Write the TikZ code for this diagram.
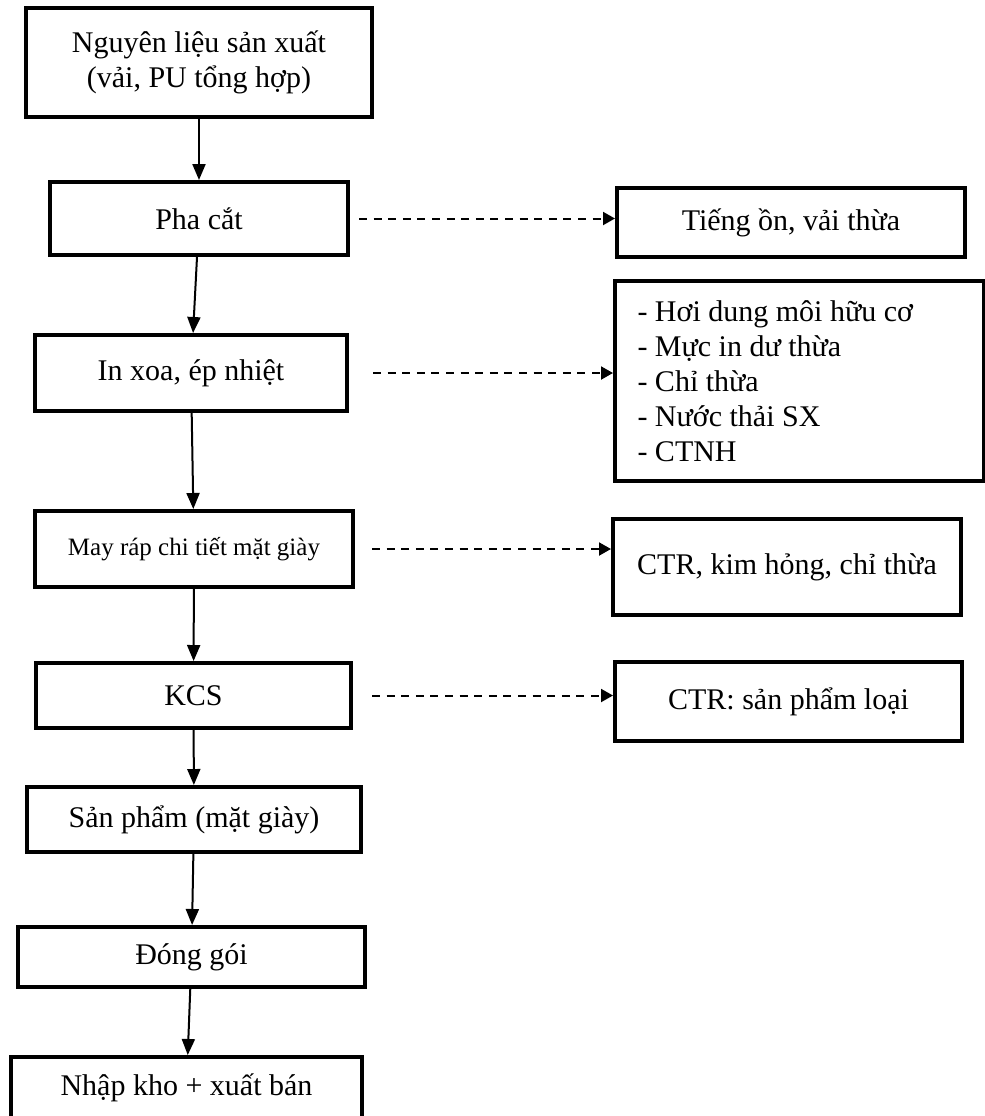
\documentclass[tikz,border=0pt]{standalone}
\usepackage{fontspec}
\setmainfont{Liberation Serif}
\usetikzlibrary{arrows.meta}

\begin{document}
\begin{tikzpicture}[x=0.5pt, y=-0.5pt, every node/.style={font=\fontsize{15}{17.5}\selectfont},
   box/.style={draw, line width=2pt, align=center, inner sep=0pt},
   arr/.style={-{Triangle[length=8pt, width=6.5pt]}, line width=1pt},
   dasharr/.style={-{Triangle[length=6pt, width=6.5pt]}, line width=1pt, dash pattern=on 4pt off 3.3pt}]
  \useasboundingbox (0,0) rectangle (985,1116);
  % main chain
  \node[box, minimum width=173pt, minimum height=54.5pt] (a) at (199,62.5) {Nguyên liệu sản xuất\\(vải, PU tổng hợp)};
  \node[box, minimum width=149pt, minimum height=36.5pt] (b) at (199,218.5) {Pha cắt};
  \node[box, minimum width=156pt, minimum height=38pt] (c) at (191,373) {In xoa, ép nhiệt};
  \node[box, minimum width=159pt, minimum height=38pt, font=\fontsize{12.5}{15}\selectfont] (d) at (194,549) {May ráp chi tiết mặt giày};
  \node[box, minimum width=157.5pt, minimum height=32.5pt] (e) at (193.5,695.5) {KCS};
  \node[box, minimum width=167pt, minimum height=32.5pt] (f) at (194,819.5) {Sản phẩm (mặt giày)};
  \node[box, minimum width=173.5pt, minimum height=30pt] (g) at (191.5,957) {Đóng gói};
  \node[box, minimum width=175.5pt, minimum height=30.5pt] (h) at (186.5,1087.5) {Nhập kho + xuất bán};
  % waste boxes
  \node[box, minimum width=174pt, minimum height=34.5pt] (r1) at (791,222.5) {Tiếng ồn, vải thừa};
  \node[box, minimum width=184.5pt, minimum height=100pt, align=flush left, text width=162pt, inner xsep=11pt] (r2) at (799.5,381) {- Hơi dung môi hữu cơ\\- Mực in dư thừa\\- Chỉ thừa\\- Nước thải SX\\- CTNH};
  \node[box, minimum width=174pt, minimum height=48pt] (r3) at (787,567) {CTR, kim hỏng, chỉ thừa};
  \node[box, minimum width=173.5pt, minimum height=39.5pt] (r4) at (788.5,701.5) {CTR: sản phẩm loại};
  \foreach \i/\j in {a/b,b/c,c/d,d/e,e/f,f/g,g/h} \draw[arr] (\i) -- (\j);
  \draw[dasharr, shorten <=4.5pt] (b.east) -- (b.east -| r1.west);
  \draw[dasharr, shorten <=12pt] (c.east) -- (c.east -| r2.west);
  \draw[dasharr, shorten <=8.5pt] (d.east) -- (d.east -| r3.west);
  \draw[dasharr, shorten <=9.5pt] (e.east) -- (e.east -| r4.west);
\end{tikzpicture}
\end{document}
